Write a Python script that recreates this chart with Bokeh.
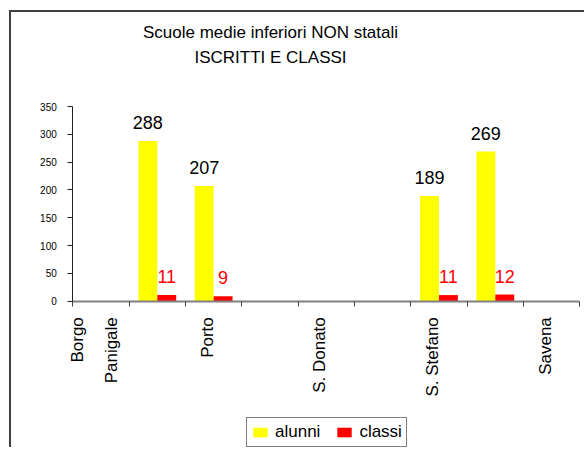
import numpy as np
from bokeh.plotting import figure
from bokeh.models import (ColumnDataSource, Range1d, LinearAxis, FixedTicker,
                          LabelSet, Label, Legend, LegendItem)
from bokeh.transform import dodge
from bokeh.core.properties import value
from bokeh.embed import file_html
from bokeh.resources import INLINE

# ---- data ----
categories = ["Borgo Panigale", "Navile", "Porto", "Reno", "S. Donato",
              "S. Vitale", "S. Stefano", "Saragozza", "Savena"]
tick_labels = ["Borgo\nPanigale", "", "Porto", "", "S. Donato", "",
               "S. Stefano", "", "Savena"]
alunni = [0, 288, 207, 0, 0, 0, 189, 269, 0]
classi = [0, 11, 9, 0, 0, 0, 11, 12, 0]
series_names = ["alunni", "classi"]
y_ticks = [0, 50, 100, 150, 200, 250, 300, 350]
y_max = 350
title_lines = ["Scuole medie inferiori NON statali", "ISCRITTI E CLASSI"]

# ---- layout (page pixels) ----
FONT = "Liberation Sans"
W, H = 575, 437
ORG_X, ORG_Y = 11, 12            # canvas origin on the page (css margin + border)
AX_LEFT, AX_RIGHT = 72.3, 579.3  # x extent of the category axis
AX_ZERO, AX_TOP = 300.7, 106.0   # y of value 0 and of y_max
n = len(categories)
kx = (AX_RIGHT - AX_LEFT) / n
ky = (AX_ZERO - AX_TOP) / y_max


def dx(px):
    return (px - AX_LEFT) / kx


def dy(py):
    return (AX_ZERO - py) / ky


centers = list(np.arange(n) + 0.5)
bounds = list(np.arange(n + 1).astype(float))
label_shift = 6.5 / kx           # category labels sit slightly left of centre
label_pos = [c - label_shift for c in centers]

p = figure(width=W, height=H, output_backend="svg", toolbar_location=None,
           x_range=Range1d(dx(ORG_X), dx(ORG_X + W)),
           y_range=Range1d(dy(ORG_Y + H), dy(ORG_Y)),
           x_axis_type=None, y_axis_type=None, title=None,
           min_border=0)
p.outline_line_color = None
p.background_fill_color = "white"
p.border_fill_color = "white"
p.grid.visible = False
p.styles = {"margin-left": "9px", "margin-top": "10px",
            "border-top": "2px solid #404040", "border-left": "2px solid #404040"}

# y axis (fixed at x = 0)
yaxis = LinearAxis(ticker=FixedTicker(ticks=y_ticks, minor_ticks=[]),
                   fixed_location=0, bounds=(0, y_max),
                   major_tick_out=5, major_tick_in=0,
                   axis_line_color="#202020", major_tick_line_color="#202020",
                   major_label_text_font=FONT, major_label_text_font_size="10px",
                   major_label_text_color="black", major_label_standoff=11)
p.add_layout(yaxis, "left")

# x axis (fixed at y = 0): ticks at category boundaries, labels at centres
overrides = {c: t for c, t in zip(label_pos, tick_labels)}
xaxis = LinearAxis(ticker=FixedTicker(ticks=label_pos, minor_ticks=bounds),
                   fixed_location=0, bounds=(0, n),
                   major_tick_out=0, major_tick_in=0, major_tick_line_color=None,
                   minor_tick_out=5, minor_tick_in=0, minor_tick_line_color="#404040",
                   axis_line_color="#808080", axis_line_width=2,
                   major_label_overrides=overrides,
                   major_label_orientation=np.pi / 2,
                   major_label_text_line_height=1.75,
                   major_label_text_font=FONT, major_label_text_font_size="17px",
                   major_label_text_color="black", major_label_standoff=11)
p.add_layout(xaxis, "below")

src = ColumnDataSource(dict(x=centers, alunni=alunni, classi=classi, cat=categories))
off = 0.168
bw = 0.335
r1 = p.vbar(x=dodge("x", -off), top="alunni", width=bw, source=src,
            fill_color="#FFFF00", line_color=None)
r2 = p.vbar(x=dodge("x", off), top="classi", width=bw, source=src,
            fill_color="#FF0000", line_color=None)

# value labels (only non-zero)
ia = [i for i, v in enumerate(alunni) if v > 0]
ic = [i for i, v in enumerate(classi) if v > 0]
la_src = ColumnDataSource(dict(x=[centers[i] for i in ia], y=[alunni[i] for i in ia],
                               t=[str(alunni[i]) for i in ia]))
lc_src = ColumnDataSource(dict(x=[centers[i] for i in ic], y=[classi[i] for i in ic],
                               t=[str(classi[i]) for i in ic]))
p.add_layout(LabelSet(x=dodge("x", -off), y="y", text="t", source=la_src,
                      y_offset=12, text_align="center", text_baseline="alphabetic",
                      text_font=value(FONT), text_font_size="18px", text_color="black"))
p.add_layout(LabelSet(x=dodge("x", off), y="y", text="t", source=lc_src,
                      y_offset=12, text_align="center", text_baseline="alphabetic",
                      text_font=value(FONT), text_font_size="18px", text_color="#FF0000"))

# title
TITLE_CX = 270
for line, base in zip(title_lines, [32.0, 57.0]):
    p.add_layout(Label(x=dx(TITLE_CX), y=dy(base), text=line,
                       text_align="center", text_baseline="alphabetic",
                       text_font=FONT, text_font_size="17px", text_color="black"))

# legend (screen position inside the frame, measured from bottom-left)
legend = Legend(items=[LegendItem(label=series_names[0], renderers=[r1]),
                       LegendItem(label=series_names[1], renderers=[r2])],
                orientation="horizontal", location=(235, 2),
                glyph_width=18, glyph_height=12, label_standoff=6, spacing=15,
                padding=4, margin=0, label_text_font=FONT, label_text_font_size="17px",
                label_text_color="black", border_line_color="black", border_line_width=1,
                background_fill_color="white", background_fill_alpha=1)
p.add_layout(legend, "center")

open("out.html", "w").write(file_html(p, INLINE))
